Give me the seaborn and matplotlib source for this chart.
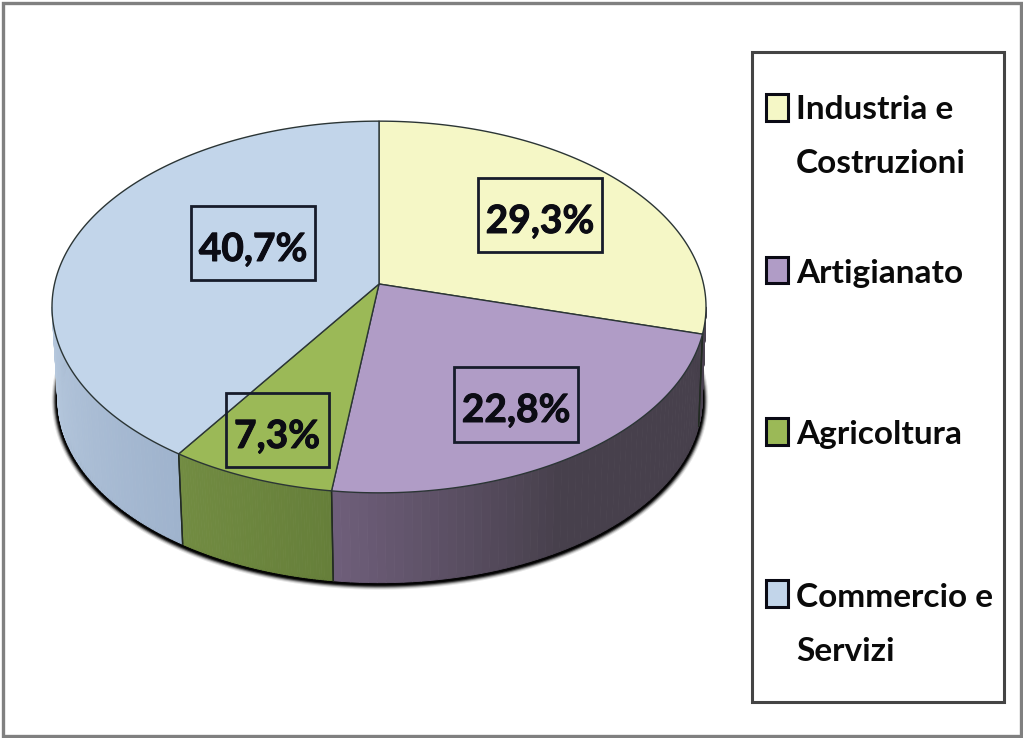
import numpy as np
import matplotlib
matplotlib.use("Agg")
import matplotlib.pyplot as plt
import matplotlib.patheffects as pe
from matplotlib.patches import Rectangle
from matplotlib.collections import PolyCollection
from matplotlib.colors import to_rgb
import seaborn as sns

# ---- data ----
categories = ["Industria e\nCostruzioni", "Artigianato", "Agricoltura", "Commercio e\nServizi"]
values = [29.3, 22.8, 7.3, 40.7]
value_labels = ["29,3%", "22,8%", "7,3%", "40,7%"]
top_colors = ["#f5f7c6", "#b09cc6", "#9bb957", "#c2d5ea"]
wall_start = ["#4a4250", "#6e5e7a", "#728c42", "#b6c8dd"]
wall_end = ["#4a4250", "#47404c", "#667f3a", "#9fb3cd"]
shade_from = [0.0, 0.55, 0.0, 0.0]

# ---- layout (pixels) ----
W, H = 1023, 738
CX, CY, A, B, K = 379.0, 284.0, 324.5, 183.0, 0.1237
DEPTH, WALL_SCALE = 93.0, 0.985
label_centers = [(540, 215), (516, 404), (277, 430), (253, 243)]
label_sizes = [(124, 74), (124, 75), (103, 74), (124, 74)]
legend_box = (752, 52, 252, 650)
swatches = [(766, 94, 22, 27), (766, 257, 22, 26), (766, 418, 22, 27), (766, 580, 22, 27)]
legend_baselines = [[119, 173], [283], [444], [607, 661]]
TEXT_X = 796

sns.set_theme(style="white")
plt.rcParams["font.family"] = ["Lato", "DejaVu Sans"]
palette = sns.color_palette(top_colors)


def top(theta):
    """Perspective projection of the upper disc; theta runs clockwise from north."""
    u, v = np.sin(theta), np.cos(theta)
    d = 1 + K * v
    return CX + A * u / d, CY - B * v / d


def bottom(theta):
    x, y = top(theta)
    return CX + 1 + (x - CX) * WALL_SCALE, CY + DEPTH + (y - CY) * WALL_SCALE


fig = plt.figure(figsize=(W / 100, H / 100), dpi=100, facecolor="white")
ax = fig.add_axes([0, 0, 1, 1])
ax.set_xlim(0, W)
ax.set_ylim(H, 0)
ax.axis("off")

# outer frame
ax.add_patch(Rectangle((2.5, 2.5), W - 5, H - 5, fc="white", ec="#808080", lw=2.4, zorder=0))

bounds = np.cumsum([0] + values) / sum(values) * 2 * np.pi

# soft shadow under the pie
t = np.linspace(np.pi * 0.42, np.pi * 1.58, 400)
sx, sy = bottom(t)
for width, alpha in [(9, .10), (7.5, .18), (6, .35), (4.5, .6), (3, .9)]:
    ax.plot(sx, sy + 0.8, color="black", lw=width, alpha=alpha, solid_capstyle="round", zorder=1)

# side walls, shaded strip by strip
vis_lo = np.pi / 2 + np.arcsin(K)
vis_hi = 3 * np.pi / 2 - np.arcsin(K)
for i in range(len(values)):
    a0, a1 = max(bounds[i], vis_lo), min(bounds[i + 1], vis_hi)
    if a1 <= a0:
        continue
    edges = np.linspace(a0, a1, 60)
    polys, cols = [], []
    c0, c1 = np.array(to_rgb(wall_start[i])), np.array(to_rgb(wall_end[i]))
    for j in range(len(edges) - 1):
        seg = np.array([edges[j], edges[j + 1]])
        xa, ya = top(seg)
        xb, yb = bottom(seg)
        polys.append(np.column_stack([np.r_[xa, xb[::-1]], np.r_[ya, yb[::-1]]]))
        # theta grows leftward on the front of the pie
        f = j / (len(edges) - 2)
        f = np.clip((f - shade_from[i]) / (1 - shade_from[i]), 0, 1)
        cols.append(c1 + (c0 - c1) * f)
    ax.add_collection(PolyCollection(polys, facecolors=cols, edgecolors=cols, linewidths=0.6, zorder=2))
    for a in (a0, a1):
        if a in (vis_lo, vis_hi):
            continue
        xa, ya = top(np.array([a]))
        xb, yb = bottom(np.array([a]))
        ax.plot([xa[0], xb[0]], [ya[0], yb[0]], color="#222b22", lw=1.0, zorder=3)

# upper disc
for i, col in enumerate(palette):
    th = np.linspace(bounds[i], bounds[i + 1], 200)
    x, y = top(th)
    ax.fill(np.r_[CX, x], np.r_[CY, y], facecolor=col, edgecolor="#2b3535", lw=1.0,
            joinstyle="round", zorder=4)

# value labels
for (cx, cy), (w, h), txt in zip(label_centers, label_sizes, value_labels):
    ax.add_patch(Rectangle((cx - w / 2, cy - h / 2), w, h, fc="none", ec="#171c2b", lw=2.0, zorder=5))
    ax.text(cx, cy + 18, txt, ha="center", va="baseline", fontsize=28, fontweight="bold",
            color="#0c0c14", zorder=6,
            path_effects=[pe.withStroke(linewidth=0.7, foreground="#0c0c14")])

# legend
lx, ly, lw_, lh = legend_box
ax.add_patch(Rectangle((lx, ly), lw_, lh, fc="white", ec="#444444", lw=2.2, zorder=5))
for sw, col, name, bases in zip(swatches, palette, categories, legend_baselines):
    ax.add_patch(Rectangle(sw[:2], sw[2], sw[3], fc=col, ec="#0a0a14", lw=2.2, zorder=6))
    for line, base in zip(name.split("\n"), bases):
        ax.text(TEXT_X, base, line, ha="left", va="baseline", fontsize=24, fontweight="bold",
                color="#0a0a0a", zorder=6)

fig.savefig("out.png", dpi=100, facecolor="white")
